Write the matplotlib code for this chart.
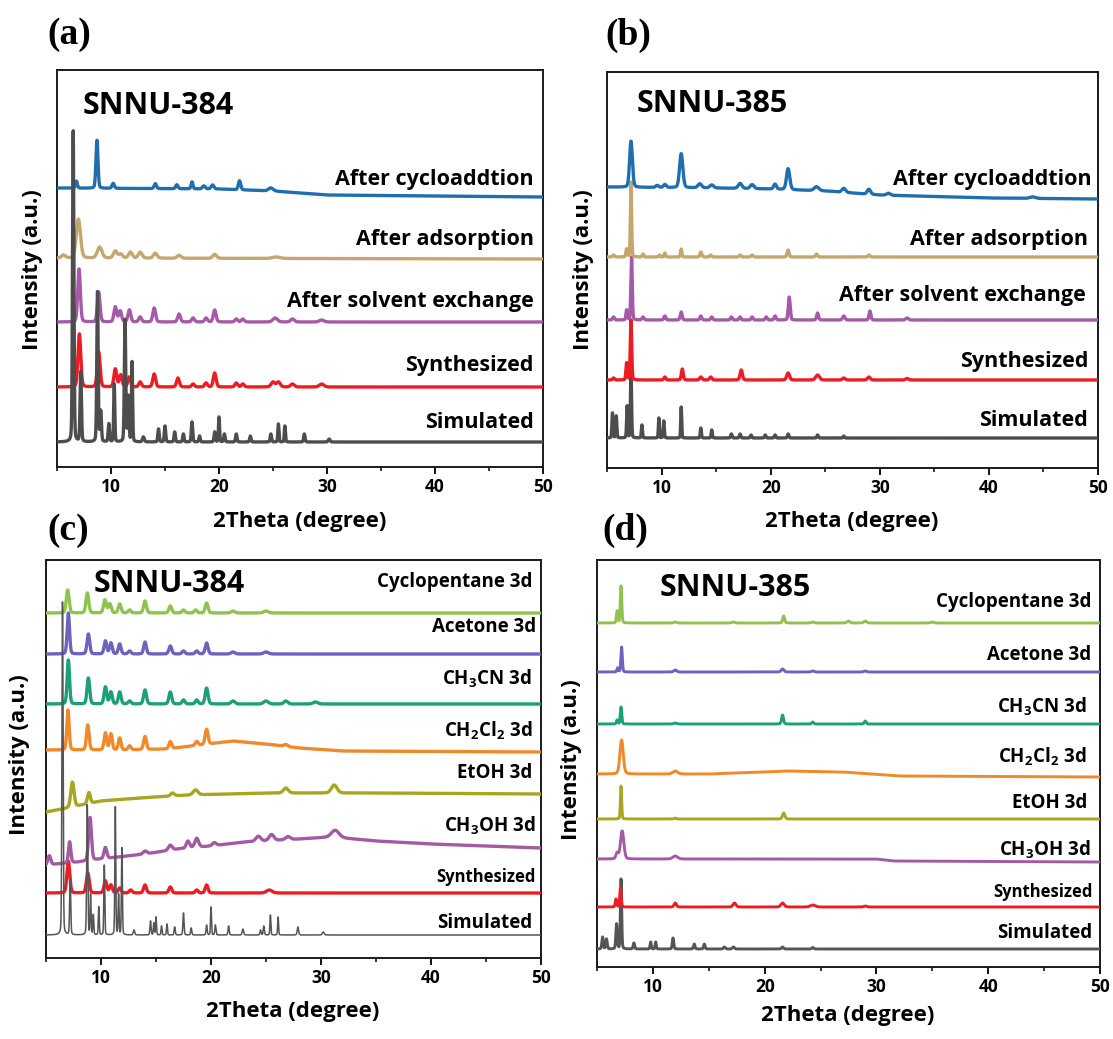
import numpy as np
import matplotlib
matplotlib.use("Agg")
import matplotlib.pyplot as plt
from matplotlib.ticker import MultipleLocator

plt.rcParams['font.family'] = ['Open Sans', 'DejaVu Sans']
plt.rcParams['font.weight'] = 'bold'
plt.rcParams['mathtext.fontset'] = 'custom'
plt.rcParams['mathtext.bf'] = 'Open Sans:bold'
plt.rcParams['mathtext.rm'] = 'Open Sans:bold'
plt.rcParams['mathtext.default'] = 'bf'

# ---------------- data (2theta in degrees, intensities in arbitrary units) ----------------
# Each trace: baseline anchors [(2theta, level)] and peaks [(2theta, height, fwhm)]

# Panel (a) SNNU-384
A_SIM_BASE = [(5, 25), (50, 25)]
A_SIM_PEAKS = [(6.5, 311, 0.15), (7.2, 70, 0.15), (8.75, 150, 0.15), (9.05, 30, 0.15), (9.8, 18, 0.15),
               (10.3, 58, 0.12), (11.3, 122, 0.15), (11.6, 45, 0.15), (11.95, 80, 0.12), (13.0, 5, 0.2),
               (14.4, 13, 0.15), (15.0, 16, 0.15), (15.9, 10, 0.15), (16.7, 8, 0.15), (17.5, 20, 0.15),
               (18.2, 6, 0.15), (19.6, 10, 0.15), (20.0, 25, 0.12), (20.5, 8, 0.15), (21.6, 8, 0.15),
               (22.9, 6, 0.15), (24.8, 8, 0.15), (25.5, 18, 0.12), (26.1, 16, 0.12), (27.9, 8, 0.15),
               (30.2, 3, 0.2)]
A_SYN_BASE = [(5, 80), (50, 80)]
A_SYN_PEAKS = [(7.07, 53, 0.3), (8.86, 35, 0.3), (10.4, 18, 0.3), (10.9, 12, 0.3), (11.7, 10, 0.3),
               (12.7, 5, 0.3), (14.0, 13, 0.3), (16.2, 9, 0.3), (17.6, 3, 0.3), (18.8, 4, 0.3),
               (19.6, 14, 0.3), (21.6, 4, 0.3), (22.2, 3, 0.3), (25.0, 5, 0.4), (25.5, 5, 0.4),
               (26.8, 3, 0.4), (29.5, 3, 0.5)]
A_SOLV_BASE = [(5, 145), (50, 145)]
A_SOLV_PEAKS = [(7.04, 53, 0.28), (8.86, 30, 0.28), (10.4, 15, 0.3), (10.85, 11, 0.3), (11.7, 12, 0.3),
                (12.7, 5, 0.3), (14.0, 14, 0.3), (16.3, 8, 0.3), (17.6, 4, 0.3), (18.8, 4, 0.3),
                (19.6, 12, 0.3), (21.6, 3, 0.3), (22.2, 3, 0.3), (25.2, 4, 0.5), (26.8, 3, 0.4),
                (29.5, 2, 0.5)]
A_ADS_BASE = [(5, 209), (50, 208)]
A_ADS_PEAKS = [(5.6, 3, 0.4), (6.98, 39, 0.45), (8.95, 11, 0.5), (10.4, 7, 0.4), (10.9, 4, 0.4),
               (11.8, 6, 0.4), (12.7, 6, 0.4), (14.1, 5, 0.4), (16.3, 3, 0.4), (19.6, 4, 0.4),
               (25.3, 1.5, 0.8)]
A_CYC_BASE = [(5, 279), (20, 278), (25, 276), (30, 272), (50, 270)]
A_CYC_PEAKS = [(6.8, 7, 0.2), (8.7, 48, 0.22), (10.2, 5, 0.25), (14.1, 5, 0.25), (16.1, 4, 0.25),
               (17.5, 7, 0.2), (18.6, 3, 0.3), (19.4, 4, 0.3), (21.9, 9, 0.25), (24.8, 3, 0.5)]
A_LABELS = ["Simulated", "Synthesized", "After solvent exchange", "After adsorption", "After cycloaddtion"]

# Panel (b) SNNU-385
B_SIM_BASE = [(5, 30), (50, 30)]
B_SIM_PEAKS = [(5.5, 25, 0.12), (5.85, 22, 0.12), (6.85, 32, 0.12), (7.2, 66, 0.12), (8.2, 13, 0.12),
               (9.75, 20, 0.1), (10.2, 17, 0.12), (11.8, 31, 0.1), (13.6, 10, 0.12), (14.6, 8, 0.12),
               (16.4, 4, 0.15), (17.2, 4, 0.15), (18.2, 3, 0.15), (19.5, 3, 0.15), (20.4, 3, 0.15),
               (21.6, 4, 0.15), (24.3, 3, 0.15), (26.7, 2, 0.15)]
B_SYN_BASE = [(5, 88), (50, 88)]
B_SYN_PEAKS = [(5.6, 2, 0.2), (6.8, 17, 0.15), (7.2, 60, 0.15), (10.3, 3, 0.2), (11.9, 11, 0.2),
               (13.6, 3, 0.25), (14.5, 3, 0.25), (17.3, 10, 0.25), (21.6, 7, 0.3), (24.3, 5, 0.4),
               (26.7, 2, 0.3), (29.0, 3, 0.3), (32.5, 1.5, 0.3)]
B_SOLV_BASE = [(5, 148), (50, 148)]
B_SOLV_PEAKS = [(5.6, 3, 0.2), (6.8, 10, 0.15), (7.25, 63, 0.15), (8.3, 3, 0.2), (10.3, 4, 0.2),
                (11.8, 8, 0.2), (13.6, 4, 0.2), (14.6, 3, 0.2), (16.4, 3, 0.2), (17.2, 3, 0.2),
                (18.3, 3, 0.2), (19.6, 3, 0.2), (20.4, 4, 0.2), (21.7, 23, 0.2), (24.3, 7, 0.2),
                (26.7, 4, 0.25), (29.1, 9, 0.2), (32.5, 2, 0.3)]
B_ADS_BASE = [(5, 211), (50, 211)]
B_ADS_PEAKS = [(5.6, 2, 0.2), (6.8, 8, 0.15), (7.2, 75, 0.13), (8.3, 3, 0.15), (9.8, 2, 0.15),
               (10.3, 4, 0.15), (11.8, 8, 0.15), (13.6, 5, 0.2), (14.5, 2, 0.2), (17.2, 2, 0.2),
               (18.3, 2, 0.2), (21.6, 7, 0.2), (24.2, 3, 0.2), (29.0, 2, 0.2)]
B_CYC_BASE = [(5, 281), (15, 280), (20, 279), (25, 277), (30, 273), (40, 270), (50, 269)]
B_CYC_PEAKS = [(7.2, 46, 0.3), (9.6, 2, 0.3), (10.3, 3, 0.3), (11.8, 34, 0.35), (13.5, 4, 0.4),
               (14.6, 3, 0.4), (17.2, 5, 0.4), (18.3, 4, 0.4), (20.4, 5, 0.3), (21.6, 21, 0.35),
               (24.2, 4, 0.5), (26.7, 4, 0.4), (29.0, 5, 0.35), (30.8, 2, 0.4), (44.0, 1.5, 0.6)]
B_LABELS = A_LABELS

# Panel (c) SNNU-384 solvents
C_SIM_BASE = [(5, 23), (50, 23)]
C_SIM_PEAKS = [(6.5, 333, 0.12), (7.2, 55, 0.12), (8.75, 130, 0.12), (9.05, 40, 0.1), (9.3, 20, 0.1),
               (9.8, 28, 0.1), (10.3, 70, 0.1), (11.3, 128, 0.1), (11.6, 40, 0.1), (11.9, 87, 0.1),
               (13.0, 5, 0.15), (14.5, 14, 0.12), (14.8, 12, 0.1), (15.0, 18, 0.1), (15.5, 9, 0.1),
               (16.0, 11, 0.1), (16.7, 8, 0.12), (17.5, 22, 0.12), (18.2, 7, 0.12), (19.6, 10, 0.12),
               (20.0, 28, 0.1), (20.4, 10, 0.12), (21.6, 9, 0.12), (22.9, 6, 0.15), (24.5, 5, 0.12),
               (24.8, 9, 0.12), (25.4, 20, 0.1), (26.1, 18, 0.1), (27.9, 8, 0.15), (30.2, 3, 0.2)]
C_SYN_BASE = [(5, 65), (50, 65)]
C_SYN_PEAKS = [(7.03, 32, 0.3), (8.8, 20, 0.3), (10.4, 12, 0.3), (10.9, 8, 0.3), (11.7, 5, 0.3),
               (12.7, 3, 0.3), (14.0, 8, 0.3), (16.3, 6, 0.3), (18.7, 3, 0.3), (19.6, 8, 0.3),
               (25.3, 3, 0.6)]
C_MEOH_BASE = [(5, 93), (8, 96), (10, 99), (14, 104), (17, 109), (20, 112), (23, 116), (28, 119),
               (31, 121), (35, 117), (40, 114), (45, 112), (50, 110)]
C_MEOH_PEAKS = [(5.3, 9, 0.3), (7.15, 21, 0.25), (9.0, 43, 0.3), (10.4, 11, 0.3), (14.0, 3, 0.4),
                (16.3, 5, 0.4), (17.9, 7, 0.35), (18.7, 9, 0.4), (20.3, 3, 0.4), (24.3, 5, 0.5),
                (25.5, 6, 0.5), (27.0, 3, 0.5), (31.3, 7, 0.8)]
C_ETOH_BASE = [(5, 146), (7, 150), (10, 157), (13.5, 160), (18, 163), (25, 165), (35, 165), (50, 164)]
C_ETOH_PEAKS = [(7.4, 25, 0.35), (8.9, 11, 0.3), (16.5, 3, 0.4), (18.6, 5, 0.5), (26.8, 5, 0.5),
                (31.2, 8, 0.6)]
C_DCM_BASE = [(5, 208), (12, 208), (16, 209), (19, 213), (22, 217), (25, 214), (28, 210), (32, 207), (50, 206)]
C_DCM_PEAKS = [(7.0, 40, 0.25), (8.8, 25, 0.28), (10.4, 17, 0.28), (10.9, 16, 0.28), (11.7, 12, 0.28),
               (12.6, 4, 0.3), (14.0, 13, 0.3), (16.3, 7, 0.3), (18.7, 4, 0.3), (19.6, 15, 0.3),
               (26.8, 2, 0.4)]
C_MECN_BASE = [(5, 254), (50, 254)]
C_MECN_PEAKS = [(7.03, 44, 0.25), (8.85, 26, 0.28), (10.4, 17, 0.28), (10.9, 12, 0.28), (11.7, 12, 0.28),
                (12.6, 3, 0.3), (14.0, 14, 0.3), (16.3, 12, 0.3), (17.5, 4, 0.3), (18.7, 4, 0.3),
                (19.6, 16, 0.3), (22.0, 3, 0.4), (25.0, 3, 0.5), (26.8, 3, 0.4), (29.5, 2, 0.5)]
C_ACE_BASE = [(5, 304), (50, 304)]
C_ACE_PEAKS = [(7.03, 41, 0.25), (8.85, 20, 0.28), (10.4, 13, 0.28), (10.9, 11, 0.28), (11.7, 10, 0.28),
               (12.6, 3, 0.3), (14.0, 12, 0.28), (16.3, 8, 0.3), (17.5, 3, 0.3), (18.7, 3, 0.3),
               (19.6, 11, 0.3), (22.0, 2, 0.4), (25.0, 2, 0.5)]
C_CP_BASE = [(5, 345), (50, 345)]
C_CP_PEAKS = [(6.97, 23, 0.3), (8.76, 20, 0.3), (10.36, 13, 0.3), (10.8, 9, 0.3), (11.7, 9, 0.3),
              (12.6, 3, 0.3), (14.0, 12, 0.3), (16.3, 7, 0.3), (17.5, 3, 0.3), (18.6, 3, 0.3),
              (19.6, 10, 0.3), (22.0, 2, 0.4), (25.0, 2, 0.5)]
CD_LABELS = ["Simulated", "Synthesized", r"CH$_3$OH 3d", "EtOH 3d", r"CH$_2$Cl$_2$ 3d",
             r"CH$_3$CN 3d", "Acetone 3d", "Cyclopentane 3d"]

# Panel (d) SNNU-385 solvents
D_SIM_BASE = [(5, 18), (50, 18)]
D_SIM_PEAKS = [(5.5, 12, 0.15), (5.85, 10, 0.15), (6.75, 25, 0.15), (7.15, 70, 0.13), (8.3, 6, 0.15),
               (9.8, 7, 0.12), (10.25, 7, 0.12), (11.8, 11, 0.15), (13.7, 5, 0.15), (14.6, 5, 0.15),
               (16.4, 2, 0.2), (17.2, 2, 0.2), (21.6, 2, 0.2), (24.3, 1.5, 0.2)]
D_SYN_BASE = [(5, 60), (50, 60)]
D_SYN_PEAKS = [(6.7, 8, 0.15), (7.1, 19, 0.15), (12.0, 4, 0.25), (17.3, 4, 0.3), (21.6, 4, 0.35),
               (24.3, 2, 0.5), (29.0, 1, 0.3)]
D_MEOH_BASE = [(5, 108), (30, 108), (31.5, 106), (50, 105)]
D_MEOH_PEAKS = [(6.8, 6, 0.25), (7.25, 28, 0.35), (12.0, 3, 0.5)]
D_ETOH_BASE = [(5, 148), (50, 148)]
D_ETOH_PEAKS = [(7.15, 33, 0.13), (12.0, 1, 0.2), (21.7, 6, 0.25)]
D_DCM_BASE = [(5, 193), (15, 193), (20, 195), (22, 196), (27, 195), (32, 191), (50, 190)]
D_DCM_PEAKS = [(7.2, 34, 0.35), (12.0, 3, 0.5)]
D_MECN_BASE = [(5, 243), (50, 243)]
D_MECN_PEAKS = [(6.8, 4, 0.15), (7.15, 17, 0.15), (12.0, 1, 0.3), (21.6, 9, 0.2), (24.3, 2, 0.2), (29.0, 3, 0.2)]
D_ACE_BASE = [(5, 295), (50, 295)]
D_ACE_PEAKS = [(6.85, 4, 0.15), (7.2, 25, 0.15), (12.0, 2, 0.3), (21.6, 3, 0.3), (24.3, 1, 0.3), (29.0, 1, 0.3)]
D_CP_BASE = [(5, 344), (50, 344)]
D_CP_PEAKS = [(6.8, 12, 0.15), (7.15, 37, 0.15), (12.0, 1, 0.3), (17.2, 1, 0.3), (21.7, 7, 0.2),
              (24.3, 1, 0.3), (27.5, 2, 0.3), (29.0, 2, 0.3), (35.0, 1, 0.3)]

TITLES = ["SNNU-384", "SNNU-385", "SNNU-384", "SNNU-385"]
PANEL_TAGS = ["(a)", "(b)", "(c)", "(d)"]
XTICKS = [10, 20, 30, 40, 50]

# ---------------- styling ----------------
W, H = 1113, 1039
AB_COLORS = ["#4d4d4d", "#ec1c24", "#a45aa6", "#c4a76e", "#1f6fb0"]
CD_COLORS = ["#555555", "#ec1c24", "#a35aa3", "#a8a620", "#f0892a", "#1f9e7a", "#6b63be", "#90c24f"]

x = np.linspace(5, 50, 6000)


def trace(base, peaks):
    bx, by = zip(*base)
    y = np.interp(x, bx, by).astype(float)
    for p, h, w in peaks:
        u = (x - p) / w
        g = np.exp(-4 * np.log(2) * u ** 2)
        l = 1.0 / (1 + 4 * u ** 2)
        y += h * (0.8 * g + 0.2 * l)
    return y


def px_rect(x0, y0, x1, y1):
    return [x0 / W, 1 - y1 / H, (x1 - x0) / W, (y1 - y0) / H]


fig = plt.figure(figsize=(W / 100, H / 100), dpi=100)

rects = [px_rect(57, 70, 543, 467), px_rect(607, 72, 1098, 468),
         px_rect(46, 560, 541, 958), px_rect(597, 560, 1100, 967)]
ylims = [397, 396, 398, 407]
axes = [fig.add_axes(r) for r in rects]

panels = [
    ([(A_SIM_BASE, A_SIM_PEAKS), (A_SYN_BASE, A_SYN_PEAKS), (A_SOLV_BASE, A_SOLV_PEAKS),
      (A_ADS_BASE, A_ADS_PEAKS), (A_CYC_BASE, A_CYC_PEAKS)], AB_COLORS, A_LABELS),
    ([(B_SIM_BASE, B_SIM_PEAKS), (B_SYN_BASE, B_SYN_PEAKS), (B_SOLV_BASE, B_SOLV_PEAKS),
      (B_ADS_BASE, B_ADS_PEAKS), (B_CYC_BASE, B_CYC_PEAKS)], AB_COLORS, B_LABELS),
    ([(C_SIM_BASE, C_SIM_PEAKS), (C_SYN_BASE, C_SYN_PEAKS), (C_MEOH_BASE, C_MEOH_PEAKS),
      (C_ETOH_BASE, C_ETOH_PEAKS), (C_DCM_BASE, C_DCM_PEAKS), (C_MECN_BASE, C_MECN_PEAKS),
      (C_ACE_BASE, C_ACE_PEAKS), (C_CP_BASE, C_CP_PEAKS)], CD_COLORS, CD_LABELS),
    ([(D_SIM_BASE, D_SIM_PEAKS), (D_SYN_BASE, D_SYN_PEAKS), (D_MEOH_BASE, D_MEOH_PEAKS),
      (D_ETOH_BASE, D_ETOH_PEAKS), (D_DCM_BASE, D_DCM_PEAKS), (D_MECN_BASE, D_MECN_PEAKS),
      (D_ACE_BASE, D_ACE_PEAKS), (D_CP_BASE, D_CP_PEAKS)], CD_COLORS, CD_LABELS),
]

label_y = [
    [45, 102, 165, 228, 288],
    [47, 106, 172, 229, 289],
    [35, 81, 132, 185, 227, 279, 331, 376],
    [34, 75, 117, 164, 210, 260, 312, 365],
]
label_x = [
    [0.981] * 5,
    [0.98, 0.98, 0.975, 0.98, 0.988],
    [0.982, 0.99, 0.99, 0.982, 0.982, 0.982, 0.99, 0.982],
    [0.985, 0.985, 0.982, 0.974, 0.974, 0.974, 0.982, 0.982],
]
label_size = [[15.5] * 5, [15.5] * 5,
              [13.5, 12, 13.5, 13.5, 13.5, 13.5, 13.5, 13.5],
              [13.5, 12, 13.5, 13.5, 13.5, 13.5, 13.5, 13.5]]
lws = [[2.4] * 5, [2.4] * 5, [1.1] + [2.4] * 7, [2.1] * 8]
title_pos = [(0.053, 0.91), (0.06, 0.92), (0.097, 0.94), (0.125, 0.93)]

for i, ax in enumerate(axes):
    series, colors, labels = panels[i]
    curves = [trace(b, p) for b, p in series]
    order = list(range(len(curves)))
    if i in (0, 2):
        order = order[1:] + [0]  # simulated drawn on top
    for k in order:
        ax.plot(x, curves[k], color=colors[k], lw=lws[i][k], solid_joinstyle='round', zorder=3)
    for k, lab in enumerate(labels):
        ax.text(label_x[i][k], label_y[i][k], lab, transform=ax.get_yaxis_transform(),
                ha='right', va='center', fontsize=label_size[i][k], fontweight='bold', zorder=5)
    ax.text(title_pos[i][0], title_pos[i][1], TITLES[i], transform=ax.transAxes,
            ha='left', va='center', fontsize=22, fontweight='bold', zorder=5)
    ax.set_xlim(5, 50)
    ax.set_ylim(0, ylims[i])
    ax.set_yticks([])
    ax.set_xticks(XTICKS)
    ax.xaxis.set_minor_locator(MultipleLocator(5))
    ax.tick_params(axis='x', which='major', direction='out', length=5, width=1.3, labelsize=12.5, pad=3)
    ax.tick_params(axis='x', which='minor', direction='out', length=3, width=1.1)
    for lab in ax.get_xticklabels():
        lab.set_fontweight('bold')
    for s in ax.spines.values():
        s.set_linewidth(1.4)
        s.set_color('#1a1a1a')

# axis labels and panel tags (pixel positions)
def ftext(px, py, s, **kw):
    fig.text(px / W, 1 - py / H, s, **kw)

xlab_pos = [(300, 522), (852, 522), (293, 1011), (848, 1015)]
ylab_pos = [(33, 270), (583, 270), (20, 755), (571, 760)]
tag_pos = [(47, 35), (605, 35), (47, 530), (602, 530)]
for i in range(4):
    ftext(*xlab_pos[i], "2Theta (degree)", ha='center', va='center', fontsize=16, fontweight='bold')
    ftext(*ylab_pos[i], "Intensity (a.u.)", ha='center', va='center', rotation=90, fontsize=16, fontweight='bold')
    ftext(*tag_pos[i], PANEL_TAGS[i], ha='left', va='center', fontsize=27, fontweight='bold',
          family='Liberation Serif')

fig.savefig("out.png", dpi=100)
